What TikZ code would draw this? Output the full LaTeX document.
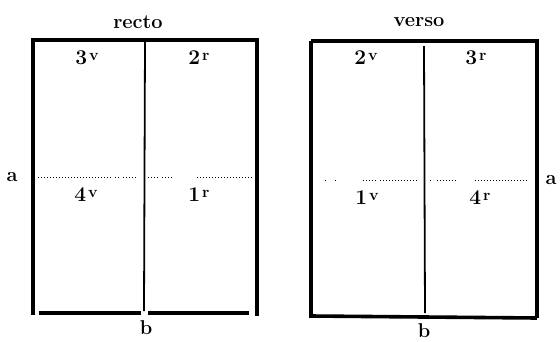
\documentclass[tikz,border=0pt]{standalone}
\begin{document}
\begin{tikzpicture}[x=1pt,y=-1pt,
  outer/.style={line width=3.6pt},
  fold/.style={line width=1.8pt},
  cut/.style={line width=1pt,dotted},
  lbl/.style={font=\fontsize{20}{24}\selectfont\bfseries, inner sep=0pt},
  pg/.style={font=\fontsize{21}{24}\selectfont\bfseries, inner sep=0pt}]
\newcommand{\pgsup}[1]{\hspace{2pt}\raisebox{4pt}{\fontsize{16}{18}\selectfont #1}}
\useasboundingbox (0,0) rectangle (560,341);
% left sheet
\coordinate (L1) at (33,40); \coordinate (L2) at (257,40);
\coordinate (L3) at (257,316); \coordinate (L4) at (33,315);
\coordinate (Lm1) at (145,42); \coordinate (Lm2) at (144,311);
\coordinate (Lb1) at (39,313); \coordinate (Lb2) at (141,313);
\coordinate (Lb3) at (148,313); \coordinate (Lb4) at (249,313);
\draw[outer] (L4) -- (L1) -- (L2) -- (L3);
\draw[outer] (Lb1) -- (Lb2);
\draw[outer] (Lb3) -- (Lb4);
\draw[fold] (Lm1) -- (Lm2);
\draw[cut] (38,177) -- (112,177) (115,177) -- (119,177) (123,177) -- (137,177)
  (148,177) -- (158,177) (162,177) -- (172,177) (197,177) -- (253,177);
\node[lbl] (recto) at (138,22) {recto};
\node[pg] (p3v) at (87,58) {3\pgsup{v}};
\node[pg] (p2r) at (199,58) {2\pgsup{r}};
\node[pg] (p4v) at (86,195) {4\pgsup{v}};
\node[pg] (p1r) at (199,195) {1\pgsup{r}};
\node[lbl] (aL) at (12,177) {a};
\node[lbl] (bL) at (146,328) {b};
% right sheet
\coordinate (R1) at (311,41); \coordinate (R2) at (537,41);
\coordinate (R3) at (537,318); \coordinate (R4) at (311,316);
\draw[outer] (R1) -- (R2) -- (R3);
\draw[outer] (R1) -- (R4) -- (R3);
\coordinate (Rm1) at (424,46); \coordinate (Rm2) at (425,313);
\draw[fold] (Rm1) -- (Rm2);
\draw[cut] (325,180) -- (326,180) (335,180) -- (336,180) (363,180) -- (377,180)
  (380,180) -- (417,180) (430,180) -- (433,180) (437,180) -- (457,180)
  (475,180) -- (528,180);
\node[lbl] (verso) at (419,22) {verso};
\node[pg] (p2v) at (366,58) {2\pgsup{v}};
\node[pg] (p3r) at (476,58) {3\pgsup{r}};
\node[pg] (p1v) at (367,198) {1\pgsup{v}};
\node[pg] (p4r) at (480,198) {4\pgsup{r}};
\node[lbl] (aR) at (551,180) {a};
\node[lbl] (bR) at (424,331) {b};
\end{tikzpicture}
\end{document}
